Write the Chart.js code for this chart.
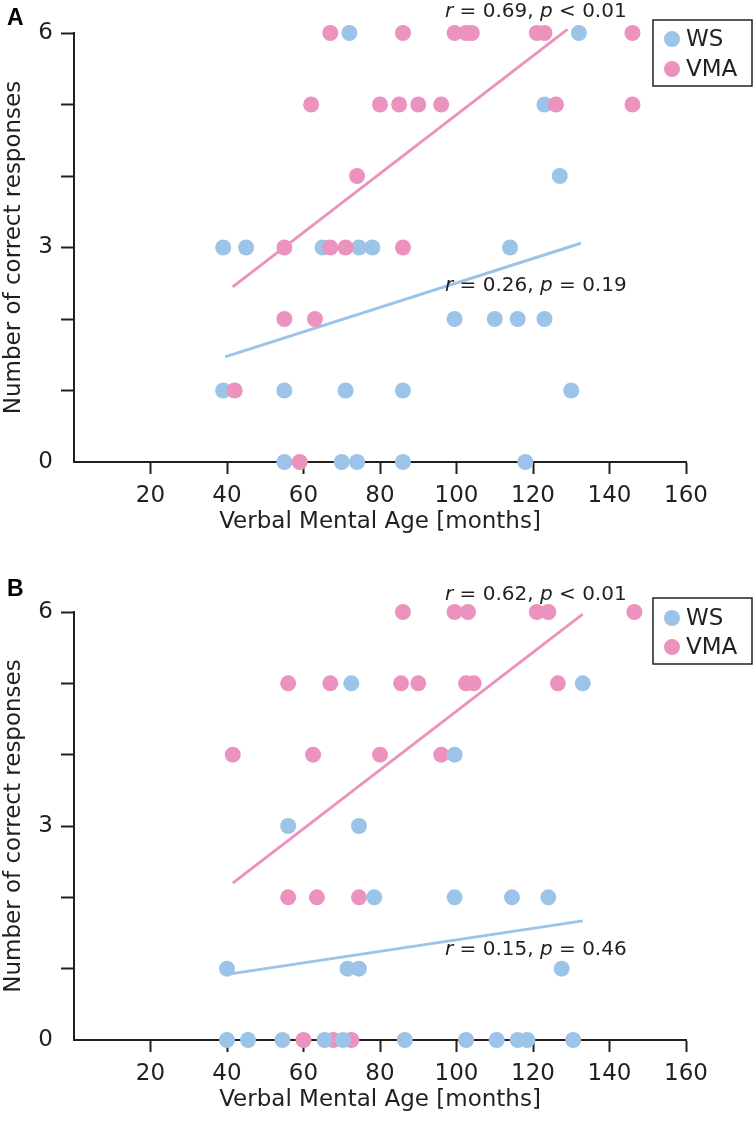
<!DOCTYPE html>
<html>
<head>
<meta charset="utf-8">
<script src="https://cdn.jsdelivr.net/npm/chart.js@4.4.1/dist/chart.umd.min.js"></script>
<style>
  body { margin: 0; background: #fff; width: 756px; height: 1124px; overflow: hidden; }
  canvas { display: block; }
</style>
</head>
<body>
<canvas id="chartA" width="756" height="560"></canvas>
<canvas id="chartB" width="756" height="564"></canvas>
<script>
// axis ticks
const xTickValues = [0, 20, 40, 60, 80, 100, 120, 140, 160];
const yTickLabels = ['0', '', '', '3', '', '', '6'];

// Panel A - WS group
const wsAgeA = [72, 132, 123, 127, 39, 45, 65, 74.5, 78, 114, 99.5, 110, 116, 123, 39, 55, 71, 86, 130, 55, 70, 74, 86, 118];
const wsScoreA = [6, 6, 5, 4, 3, 3, 3, 3, 3, 3, 2, 2, 2, 2, 1, 1, 1, 1, 1, 0, 0, 0, 0, 0];
// Panel A - VMA group
const vmaAgeA = [67, 86, 99.5, 102.5, 104, 121, 123, 146, 62, 80, 85, 90, 96, 126, 146, 74, 55, 67, 71, 86, 55, 63, 42, 59];
const vmaScoreA = [6, 6, 6, 6, 6, 6, 6, 6, 5, 5, 5, 5, 5, 5, 5, 4, 3, 3, 3, 3, 2, 2, 1, 0];
// Panel A - fit lines (end points)
const fitWsXA = [39.5, 132.5];
const fitWsYA = [1.47, 3.06];
const fitVmaXA = [41.5, 129];
const fitVmaYA = [2.45, 6.05];
const statsA = { vma: ['0.69', '<', '0.01'], ws: ['0.26', '=', '0.19'] };

// Panel B - WS group
const wsAgeB = [72.5, 133, 99.5, 56, 74.5, 78.5, 99.5, 114.5, 124, 40, 71.5, 74.5, 127.5, 40, 45.5, 54.5, 65.5, 70.3, 86.5, 102.5, 110.5, 116, 118.5, 130.5];
const wsScoreB = [5, 5, 4, 3, 3, 2, 2, 2, 2, 1, 1, 1, 1, 0, 0, 0, 0, 0, 0, 0, 0, 0, 0, 0];
// Panel B - VMA group
const vmaAgeB = [86, 99.5, 103, 121, 124, 146.5, 56, 67, 85.5, 90, 102.5, 104.5, 126.5, 41.5, 62.5, 80, 96, 56, 63.5, 74.5, 60, 67.8, 72.5];
const vmaScoreB = [6, 6, 6, 6, 6, 6, 5, 5, 5, 5, 5, 5, 5, 4, 4, 4, 4, 2, 2, 2, 0, 0, 0];
// Panel B - fit lines
const fitWsXB = [40, 133];
const fitWsYB = [0.92, 1.67];
const fitVmaXB = [41.5, 133];
const fitVmaYB = [2.2, 5.97];
const statsB = { vma: ['0.62', '<', '0.01'], ws: ['0.15', '=', '0.46'] };

const BLUE = '#9cc3e8';
const PINK = '#ec92be';
const INK = '#231f20';
const FONT = "'DejaVu Sans', Verdana, sans-serif";
const FS = 23;

function toPoints(xs, ys) {
    return xs.map((x, i) => ({ x: x, y: ys[i] }));
}

// panel letter, boxed legend and r/p annotations
const decorPlugin = {
    id: 'decor',
    afterDraw(chart, args, opts) {
        const ctx = chart.ctx;
        const xs = chart.scales.x, ys = chart.scales.y;
        ctx.save();

        ctx.fillStyle = '#000';
        ctx.font = 'bold 23px Arial, sans-serif';
        ctx.textBaseline = 'top';
        ctx.textAlign = 'left';
        ctx.fillText(opts.letter, 7, opts.letterY);

        // legend
        const lg = opts.legend;
        ctx.strokeStyle = INK;
        ctx.lineWidth = 1.5;
        ctx.strokeRect(lg.x, lg.y, lg.w, lg.h);
        ctx.font = FS + 'px ' + FONT;
        ctx.textBaseline = 'middle';
        chart.data.datasets.filter(d => !d.showLine).forEach((d, i) => {
            const cy = lg.y + lg.first + i * lg.step;
            ctx.fillStyle = d.backgroundColor;
            ctx.beginPath();
            ctx.arc(lg.x + 19, cy, 8, 0, Math.PI * 2);
            ctx.fill();
            ctx.fillStyle = INK;
            ctx.fillText(d.label, lg.x + 33, cy + 1);
        });

        // r / p annotations
        opts.notes.forEach(n => {
            let x = xs.getPixelForValue(n.x);
            const y = ys.getPixelForValue(n.y);
            const parts = [
                ['r', true], [' = ' + n.s[0] + ', ', false], ['p', true], [' ' + n.s[1] + ' ' + n.s[2], false]
            ];
            ctx.fillStyle = INK;
            parts.forEach(([t, it]) => {
                ctx.font = (it ? 'italic ' : '') + '20px ' + FONT;
                ctx.fillText(t, x, y);
                x += ctx.measureText(t).width;
            });
        });
        ctx.restore();
    }
};

function makePanel(id, p) {
    return new Chart(document.getElementById(id), {
        type: 'scatter',
        data: {
            datasets: [
                { label: 'WS', data: toPoints(p.wsAge, p.wsScore), backgroundColor: BLUE, borderWidth: 0,
                  pointRadius: 8, pointHoverRadius: 8, order: p.wsOrder, clip: false },
                { label: 'VMA', data: toPoints(p.vmaAge, p.vmaScore), backgroundColor: PINK, borderWidth: 0,
                  pointRadius: 8, pointHoverRadius: 8, order: p.vmaOrder, clip: false },
                { type: 'line', data: toPoints(p.fitWsX, p.fitWsY), borderColor: BLUE, borderWidth: 3,
                  pointRadius: 0, showLine: true, order: 5, clip: false },
                { type: 'line', data: toPoints(p.fitVmaX, p.fitVmaY), borderColor: PINK, borderWidth: 3,
                  pointRadius: 0, showLine: true, order: 5, clip: false }
            ]
        },
        options: {
            responsive: false,
            animation: false,
            events: [],
            layout: { padding: { top: p.padTop, right: 70, bottom: p.padBottom, left: 0 } },
            plugins: {
                legend: { display: false },
                tooltip: { enabled: false },
                decor: { letter: p.letter, letterY: p.letterY, legend: p.legend, notes: p.notes }
            },
            scales: {
                x: {
                    type: 'linear',
                    min: 0,
                    max: 160,
                    afterBuildTicks: s => { s.ticks = xTickValues.map(v => ({ value: v })); },
                    afterFit: s => { s.height = 74; },
                    border: { color: INK, width: 2 },
                    grid: {
                        drawOnChartArea: false, drawTicks: true, tickLength: 12, tickWidth: 2,
                        tickColor: c => (c.tick && c.tick.value === 0) ? 'rgba(0,0,0,0)' : INK
                    },
                    ticks: {
                        autoSkip: false, maxRotation: 0, padding: 8, color: INK,
                        font: { family: FONT, size: FS },
                        callback: v => v === 0 ? '' : String(v)
                    },
                    title: {
                        display: true, text: 'Verbal Mental Age [months]', color: INK,
                        font: { family: FONT, size: FS }, padding: { top: p.xTitlePad, bottom: 0 }
                    }
                },
                y: {
                    min: 0,
                    max: 6,
                    afterFit: s => { s.width = 74; },
                    border: { color: INK, width: 2 },
                    grid: {
                        drawOnChartArea: false, drawTicks: true, tickLength: 13, tickWidth: 2,
                        tickColor: c => (c.tick && c.tick.value === 0) ? 'rgba(0,0,0,0)' : INK
                    },
                    ticks: {
                        stepSize: 1, padding: 8, color: INK,
                        font: { family: FONT, size: FS },
                        callback: v => yTickLabels[v]
                    },
                    title: {
                        display: true, text: 'Number of correct responses', color: INK,
                        font: { family: FONT, size: FS }, padding: { top: 0, bottom: 0 }
                    }
                }
            }
        },
        plugins: [decorPlugin]
    });
}

makePanel('chartA', {
    wsAge: wsAgeA, wsScore: wsScoreA, vmaAge: vmaAgeA, vmaScore: vmaScoreA,
    fitWsX: fitWsXA, fitWsY: fitWsYA, fitVmaX: fitVmaXA, fitVmaY: fitVmaYA,
    wsOrder: 2, vmaOrder: 1,
    padTop: 33, padBottom: 24, xTitlePad: 4,
    letter: 'A', letterY: 7,
    legend: { x: 653, y: 20, w: 99, h: 66, first: 19, step: 30 },
    notes: [
        { x: 97, y: 6.29, s: statsA.vma },
        { x: 97, y: 2.46, s: statsA.ws }
    ]
});

makePanel('chartB', {
    wsAge: wsAgeB, wsScore: wsScoreB, vmaAge: vmaAgeB, vmaScore: vmaScoreB,
    fitWsX: fitWsXB, fitWsY: fitWsYB, fitVmaX: fitVmaXB, fitVmaY: fitVmaYB,
    wsOrder: 1, vmaOrder: 2,
    padTop: 52, padBottom: 10, xTitlePad: 0,
    letter: 'B', letterY: 18,
    legend: { x: 653, y: 38, w: 99, h: 66, first: 20, step: 29 },
    notes: [
        { x: 97, y: 6.24, s: statsB.vma },
        { x: 97, y: 1.26, s: statsB.ws }
    ]
});
</script>
</body>
</html>
